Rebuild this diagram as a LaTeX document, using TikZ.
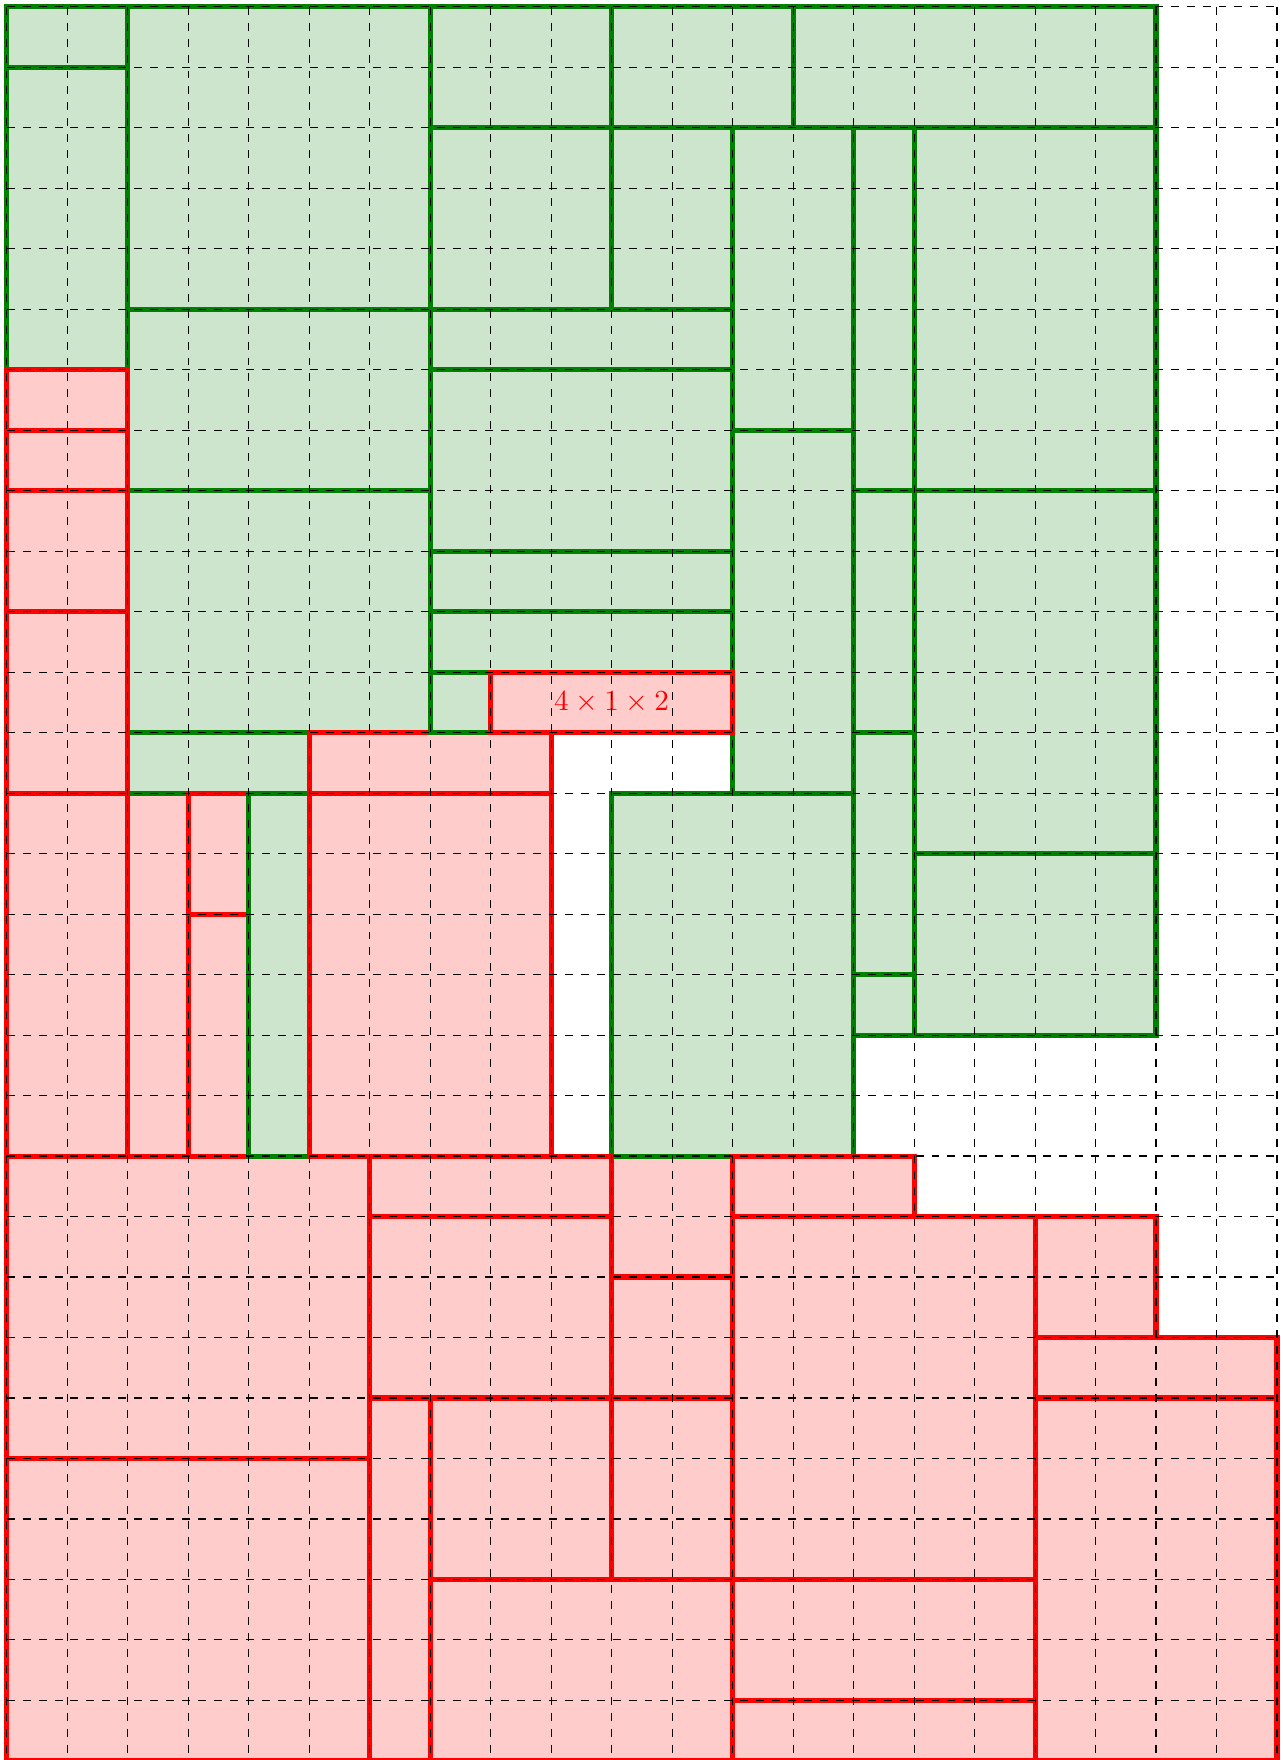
\documentclass[tikz,border=0pt]{standalone}
\usepackage{amsmath, amssymb}
\usepackage{tikz}
\usetikzlibrary{positioning}

\colorlet{okgreen}{green!50!black}

\begin{document}
\begin{tikzpicture}[scale=0.8, yscale=-1,
    gbox/.style={draw=okgreen, fill=okgreen!20, line width=1.9pt},
    rbox/.style={draw=red, fill=red!20, line width=1.9pt},
    gridline/.style={dashed, black}]
    \useasboundingbox (-0.111,-0.111) rectangle (21.083,28.985);

    % Placed boxes (green)
    \draw[gbox] (0,0) rectangle (2,1);
    \draw[gbox] (0,1) rectangle (2,6);
    \draw[gbox] (2,0) rectangle (7,5);
    \draw[gbox] (7,0) rectangle (10,2);
    \draw[gbox] (10,0) rectangle (13,2);
    \draw[gbox] (13,0) rectangle (19,2);
    \draw[gbox] (7,2) rectangle (10,5);
    \draw[gbox] (10,2) rectangle (12,5);
    \draw[gbox] (12,2) rectangle (14,7);
    \draw[gbox] (14,2) rectangle (15,8);
    \draw[gbox] (15,2) rectangle (19,8);
    \draw[gbox] (2,5) rectangle (7,8);
    \draw[gbox] (7,5) rectangle (12,6);
    \draw[gbox] (7,6) rectangle (12,9);
    \draw[gbox] (12,7) rectangle (14,13);
    \draw[gbox] (14,8) rectangle (15,12);
    \draw[gbox] (15,8) rectangle (19,14);
    \draw[gbox] (7,9) rectangle (12,10);
    \draw[gbox] (7,10) rectangle (12,11);
    \draw[gbox] (2,8) rectangle (7,12);
    \draw[gbox] (14,12) rectangle (15,16);
    \draw[gbox] (14,16) rectangle (15,17);
    \draw[gbox] (15,14) rectangle (19,17);

    % Remaining boxes (red), mixed with the last green ones
    \draw[rbox] (2,13) rectangle (3,19);
    \draw[rbox] (3,15) rectangle (4,19);
    \draw[rbox] (0,19) rectangle (6,24);
    \draw[rbox] (10,19) rectangle (12,21);
    \draw[gbox] (10,13) rectangle (14,19);
    \draw[gbox] (2,12) rectangle (5,13);
    \draw[rbox] (0,6) rectangle (2,7);
    \draw[rbox] (0,7) rectangle (2,8);
    \draw[rbox] (0,8) rectangle (2,10);
    \draw[rbox] (0,10) rectangle (2,13);
    \draw[rbox] (0,13) rectangle (2,19);
    \draw[rbox] (3,13) rectangle (4,15);
    \draw[rbox] (5,12) rectangle (9,13);
    \draw[gbox] (4,13) rectangle (5,19);
    \draw[gbox] (7,11) rectangle (8,12);
    \draw[rbox] (5,13) rectangle (9,19);
    \draw[rbox] (8,11) rectangle (12,12);
    \node[text=red, font=\fontsize{11pt}{13pt}\selectfont] (dims) at (10,11.5) {$4\times1\times2$};
    \draw[rbox] (0,24) rectangle (6,29);
    \draw[rbox] (6,19) rectangle (10,20);
    \draw[rbox] (12,19) rectangle (15,20);
    \draw[rbox] (6,20) rectangle (10,23);
    \draw[rbox] (10,21) rectangle (12,23);
    \draw[rbox] (12,20) rectangle (17,26);
    \draw[rbox] (17,20) rectangle (19,22);
    \draw[rbox] (17,22) rectangle (21,23);
    \draw[rbox] (6,23) rectangle (7,29);
    \draw[rbox] (7,23) rectangle (10,26);
    \draw[rbox] (10,23) rectangle (12,26);
    \draw[rbox] (7,26) rectangle (12,29);
    \draw[rbox] (12,26) rectangle (17,28);
    \draw[rbox] (12,28) rectangle (17,29);
    \draw[rbox] (17,23) rectangle (21,29);

    % Grid on top
    \draw[gridline] (0,0) grid (21,29);
\end{tikzpicture}
\end{document}
